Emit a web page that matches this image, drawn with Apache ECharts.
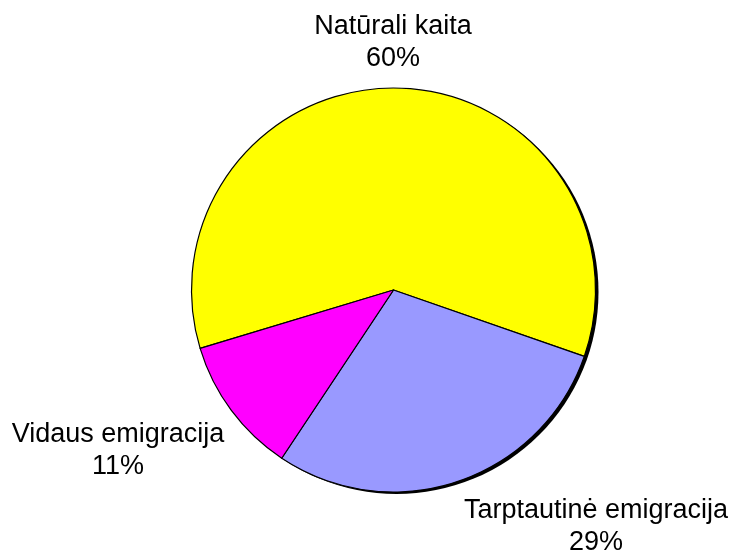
<!DOCTYPE html>
<html>
<head>
<meta charset="utf-8">
<script src="https://cdn.jsdelivr.net/npm/echarts@6/dist/echarts.min.js"></script>
<style>
  html, body { margin: 0; padding: 0; background: #ffffff; }
  #chart { width: 735px; height: 556px; }
</style>
</head>
<body>
<div id="chart"></div>
<script>
// duomenys
const names = ["Natūrali kaita", "Tarptautinė emigracija", "Vidaus emigracija"];
const shares = [60, 29, 11];
const colors = ["#ffff00", "#9999ff", "#ff00ff"];

// etikečių vietos (centras)
const labelPos = [[393, 43], [596, 527], [118, 451]];

const chart = echarts.init(document.getElementById("chart"));

const option = {
  animation: false,
  series: [
    {
      // šešėlis
      type: "pie",
      silent: true,
      center: [396.5, 292],
      radius: 202,
      label: { show: false },
      labelLine: { show: false },
      itemStyle: { color: "#000000" },
      data: [{ value: 1, name: "" }],
    },
    {
      type: "pie",
      center: [393.5, 290],
      radius: 202,
      startAngle: 196.8,
      clockwise: true,
      avoidLabelOverlap: false,
      itemStyle: { borderColor: "#000000", borderWidth: 1.2 },
      label: {
        show: true,
        position: "outside",
        formatter: "{b}\n{d}%",
        fontFamily: "Liberation Sans, Arial, sans-serif",
        fontSize: 27,
        lineHeight: 32,
        color: "#000000",
        align: "center",
      },
      labelLine: { show: false },
      labelLayout: function (p) {
        const pos = labelPos[p.dataIndex];
        return { x: pos[0], y: pos[1], align: "center", verticalAlign: "middle" };
      },
      emphasis: { disabled: true },
      data: names.map((n, i) => ({
        name: n,
        value: shares[i],
        itemStyle: { color: colors[i] },
      })),
    },
  ],
};
option && chart.setOption(option);
</script>
</body>
</html>
